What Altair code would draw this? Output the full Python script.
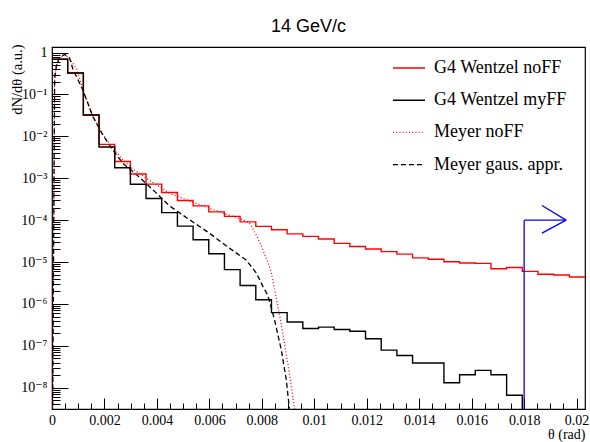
import altair as alt
import pandas as pd

# ---------------- data ----------------
SERIES = ["G4 Wentzel noFF", "G4 Wentzel myFF", "Meyer noFF", "Meyer gaus. appr."]

XMAX = 0.02032          # histogram / axis range upper edge
NBINS = 34
YMIN, YMAX = 3.11e-9, 1.36

# bin contents (dN/dtheta, a.u.) of the two histograms
red_hist = [0.692, 0.327, 0.0324, 6.46e-3, 2.51e-3, 1.26e-3, 7.24e-4, 4.57e-4,
            2.95e-4, 2.19e-4, 1.58e-4, 1.23e-4, 9.1e-5, 7.1e-5, 5.9e-5, 4.7e-5,
            4.1e-5, 3.55e-5, 2.8e-5, 2.35e-5, 2.05e-5, 1.78e-5, 1.55e-5, 1.26e-5,
            1.17e-5, 1.02e-5, 9.5e-6, 9.3e-6, 6.9e-6, 7.4e-6, 6.0e-6, 5.1e-6,
            4.9e-6, 4.4e-6]
black_hist = [0.692, 0.327, 0.0324, 5.6e-3, 1.78e-3, 7.2e-4, 3.3e-4, 1.51e-4,
              7.2e-5, 3.4e-5, 1.58e-5, 6.6e-6, 2.75e-6, 1.26e-6, 6.2e-7, 3.7e-7,
              2.6e-7, 2.8e-7, 2.45e-7, 2.24e-7, 1.48e-7, 7.9e-8, 5.9e-8, 3.9e-8,
              3.9e-8, 1.32e-8, 2.05e-8, 2.6e-8, 2.05e-8, 6.6e-9]  # empty afterwards

# Meyer curves (theta, value)
meyer_nff_theta = [0.00002, 0.0001, 0.00017, 0.00029, 0.00048, 0.00067, 0.00093,
                   0.0012, 0.00156, 0.00194, 0.00232, 0.0027, 0.00309, 0.00372,
                   0.00448, 0.0055, 0.00651, 0.00728, 0.00753, 0.00766, 0.0079,
                   0.00804, 0.0082, 0.00836, 0.00855, 0.0087, 0.00884, 0.009,
                   0.00912, 0.00922, 0.0093]
meyer_nff_val = [1e-9, 0.24, 0.50, 0.72, 0.89, 0.72, 0.42,
                 0.12, 0.030, 0.0112, 5.2e-3, 2.75e-3, 1.66e-3, 8.9e-4,
                 4.4e-4, 2.5e-4, 1.48e-4, 1.02e-4, 8.5e-5, 6.3e-5, 3.2e-5,
                 1.95e-5, 1.12e-5, 5.6e-6, 1.41e-6, 4.5e-7, 1.41e-7, 3.5e-8,
                 1.12e-8, 4.0e-9, 2.0e-9]

meyer_gaus_theta = [0.00002, 0.0001, 0.00017, 0.00029, 0.00048, 0.00067, 0.0008,
                    0.00118, 0.00156, 0.00194, 0.00232, 0.0027, 0.00334, 0.00392,
                    0.00448, 0.00525, 0.006, 0.00677, 0.0074, 0.00779, 0.00804,
                    0.00823, 0.00848, 0.00874, 0.00893, 0.00905]
meyer_gaus_val = [1e-9, 0.24, 0.50, 0.76, 0.91, 0.74, 0.40,
                  0.126, 0.0295, 0.0107, 4.7e-3, 2.29e-3, 1.05e-3, 4.8e-4,
                  2.19e-4, 1.02e-4, 4.9e-5, 2.14e-5, 1.12e-5, 5.5e-6, 2.63e-6,
                  1.58e-6, 4.3e-7, 8.1e-8, 1.58e-8, 3.2e-9]

# blue arrow segments (x0, y0) -> (x1, y1)
arrow_x0 = [0.018, 0.018, 0.01868, 0.01868]
arrow_y0 = [YMIN, 1e-4, 2.24e-4, 4.9e-5]
arrow_x1 = [0.018, 0.0196, 0.0196, 0.0196]
arrow_y1 = [1e-4, 1e-4, 1e-4, 1e-4]

x_major = [0, 0.002, 0.004, 0.006, 0.008, 0.01, 0.012, 0.014, 0.016, 0.018, 0.02]
y_major = [1, 1e-1, 1e-2, 1e-3, 1e-4, 1e-5, 1e-6, 1e-7, 1e-8]

# ---------------- build tables ----------------
BW = XMAX / NBINS
edges = [i * BW for i in range(NBINS + 1)]

rows = []
for i, v in enumerate(red_hist):
    rows.append({"x": edges[i], "y": v, "s": SERIES[0]})
rows.append({"x": edges[NBINS], "y": red_hist[-1], "s": SERIES[0]})
for i, v in enumerate(black_hist):
    rows.append({"x": edges[i], "y": v, "s": SERIES[1]})
rows.append({"x": edges[len(black_hist)], "y": YMIN * 0.5, "s": SERIES[1]})
hist_df = pd.DataFrame(rows)

curve_df = pd.concat([
    pd.DataFrame({"x": meyer_nff_theta, "y": meyer_nff_val, "s": SERIES[2]}),
    pd.DataFrame({"x": meyer_gaus_theta, "y": meyer_gaus_val, "s": SERIES[3]}),
])

arrow_df = pd.DataFrame({"x": arrow_x0, "y": arrow_y0, "x2": arrow_x1, "y2": arrow_y1})

x_minor = [round(i * 0.0005, 5) for i in range(1, 41) if i % 4 != 0]
y_minor = []
for k in range(-9, 1):
    for m in range(2, 10):
        v = m * 10.0 ** k
        if YMIN <= v <= YMAX:
            y_minor.append(v)

dummy = pd.DataFrame({"x": [0.01], "y": [0.01]})

W, H = 533, 362
SERIF = "'Liberation Serif', 'Times New Roman', 'DejaVu Serif', serif"


def xs():
    return alt.Scale(domain=[0, XMAX], nice=False, zero=False)


def ys():
    return alt.Scale(type="log", domain=[YMIN, YMAX], nice=False)


color_scale = alt.Scale(domain=SERIES, range=["#ff0000", "#000000", "#ff0000", "#000000"])
dash_scale = alt.Scale(domain=SERIES, range=[[1, 0], [1, 0], [1, 2.2], [5, 3]])
legend = alt.Legend(orient="none", legendX=340, legendY=4, title=None,
                    symbolType="stroke", symbolSize=1024, symbolStrokeWidth=1.4,
                    labelFont=SERIF, labelFontSize=18, labelColor="black",
                    rowPadding=6.2, labelOffset=8, padding=0, direction="vertical",
                    labelLimit=300)

sup = "['⁰','¹','²','³','⁴','⁵','⁶','⁷','⁸','⁹']"
ylabel_expr = ("datum.value > 0.5 ? '1' : '10⁻' + " + sup +
               "[round(-log(datum.value)/LN10)]")

# main axes with labels and titles (no ticks)
axes_main = alt.Chart(dummy).mark_point(opacity=0).encode(
    x=alt.X("x:Q", scale=xs(), axis=alt.Axis(
        orient="bottom", values=x_major, ticks=False, domain=False, grid=False,
        labelFont=SERIF, labelFontSize=14, labelColor="black", labelPadding=4,
        labelFlush=False, labelOverlap=False, format="~g",
        title="θ (rad)", titleFont=SERIF, titleFontSize=14, titleFontWeight="normal",
        titleColor="black", titleX=W, titleY=25, titleAlign="right",
        titleBaseline="middle", titleAnchor="end")),
    y=alt.Y("y:Q", scale=ys(), axis=alt.Axis(
        orient="left", values=y_major, ticks=False, domain=False, grid=False,
        labelFont=SERIF, labelFontSize=14, labelColor="black", labelPadding=5,
        labelOverlap=False, labelExpr=ylabel_expr,
        title="dN/dθ (a.u.)", titleFont=SERIF, titleFontSize=14.5,
        titleFontWeight="normal", titleColor="black", titleX=-35, titleY=-3,
        titleAlign="right", titleBaseline="middle", titleAngle=-90,
        titleAnchor="end")),
)


def tick_layer(channel, values, size):
    if channel == "x":
        ax = alt.Axis(orient="top", offset=-H, values=values, tickSize=size,
                      labels=False, domain=False, grid=False, title=None,
                      tickColor="black", tickWidth=1)
        return alt.Chart(dummy).mark_point(opacity=0).encode(
            x=alt.X("x:Q", scale=xs(), axis=ax),
            y=alt.Y("y:Q", scale=ys(), axis=None))
    ax = alt.Axis(orient="right", offset=-W, values=values, tickSize=size,
                  labels=False, domain=False, grid=False, title=None,
                  tickColor="black", tickWidth=1)
    return alt.Chart(dummy).mark_point(opacity=0).encode(
        x=alt.X("x:Q", scale=xs(), axis=None),
        y=alt.Y("y:Q", scale=ys(), axis=ax))


hist = alt.Chart(hist_df).mark_line(interpolate="step-after", clip=True,
                                     strokeWidth=1.4).encode(
    x=alt.X("x:Q", scale=xs(), axis=None),
    y=alt.Y("y:Q", scale=ys(), axis=None),
    color=alt.Color("s:N", scale=color_scale, legend=legend),
    strokeDash=alt.StrokeDash("s:N", scale=dash_scale, legend=legend),
)

curves = alt.Chart(curve_df).mark_line(clip=True, strokeWidth=1.3).encode(
    x=alt.X("x:Q", scale=xs(), axis=None),
    y=alt.Y("y:Q", scale=ys(), axis=None),
    color=alt.Color("s:N", scale=color_scale, legend=legend),
    strokeDash=alt.StrokeDash("s:N", scale=dash_scale, legend=legend),
)

arrow = alt.Chart(arrow_df).mark_rule(color="#0000ff", strokeWidth=1.3, clip=True).encode(
    x=alt.X("x:Q", scale=xs(), axis=None),
    y=alt.Y("y:Q", scale=ys(), axis=None),
    x2="x2:Q",
    y2="y2:Q",
)

chart = alt.layer(
    axes_main,
    curves,
    hist,
    arrow,
    tick_layer("x", x_major, 11),
    tick_layer("x", x_minor, 6),
    tick_layer("y", y_major, 16),
    tick_layer("y", y_minor, 8),
).resolve_scale(
    x="independent", y="independent"
).resolve_axis(
    x="independent", y="independent"
).properties(
    width=W, height=H,
    title=alt.Title("14 GeV/c", font="Liberation Sans", fontSize=18,
                    fontWeight="normal", color="black", anchor="middle",
                    dx=-10, offset=8),
    padding={"left": 52, "top": 47, "right": 5, "bottom": 33},
    autosize=alt.AutoSizeParams(type="none"),
    background="white",
).configure_view(stroke="black", strokeWidth=1.2)

chart.save("out.html", embed_options={"renderer": "svg", "actions": False})
